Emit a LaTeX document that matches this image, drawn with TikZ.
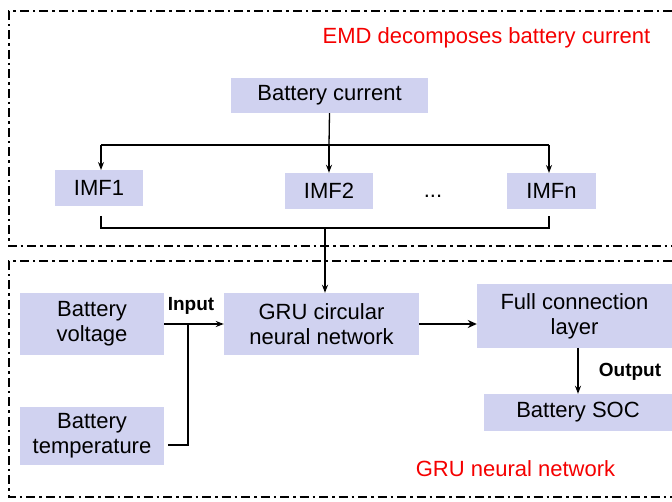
\documentclass[tikz,border=0pt]{standalone}
\usepackage{fontspec}
\setmainfont{Liberation Sans}
\usetikzlibrary{arrows.meta}
\definecolor{boxfill}{RGB}{208,210,240}
\definecolor{redtxt}{RGB}{245,0,0}
\begin{document}
\begin{tikzpicture}[x=1pt,y=-1pt,
  blk/.style={fill=boxfill,draw=none,inner sep=0pt,align=center,font=\fontsize{22}{25}\selectfont},
  frame/.style={line width=2.2pt,dash pattern=on 9pt off 4pt on 2.5pt off 4pt},
  conn/.style={line width=1.3pt},
  arr/.style={conn,-{Stealth[length=8pt,width=6pt]}},
  thick arr/.style={line width=2.6pt,-{Stealth[length=9pt,width=8pt]}},
  lbl/.style={font=\fontsize{22}{25}\selectfont},
  redlbl/.style={text=redtxt,font=\fontsize{22}{25}\selectfont}]
\useasboundingbox (0,0) rectangle (672,502);
\fill[white] (0,0) rectangle (672,502);
% frames
\draw[frame] (672,11) -- (9,11) -- (9,246) -- (672,246);
\draw[frame] (672,261) -- (9,261) -- (9,497) -- (672,497);
% labels
\node[redlbl] (emd) at (486.5,38) {EMD decomposes battery current};
\node[redlbl] (grul) at (515.5,469) {GRU neural network};
% nodes
\node[blk,minimum width=197pt,minimum height=35pt] (bc) at (329.5,95.5) {Battery current};
\node[blk,minimum width=88pt,minimum height=36pt] (imf1) at (99,188) {IMF1};
\node[blk,minimum width=88pt,minimum height=36pt] (imf2) at (329,191) {IMF2};
\node[blk,minimum width=89pt,minimum height=36pt] (imfn) at (551.5,191) {IMFn};
\node[lbl] (dots) at (433,196) {...};
\node[blk,minimum width=144pt,minimum height=62pt] (bv) at (92,324) {Battery\\voltage};
\node[blk,minimum width=144pt,minimum height=58pt] (bt) at (92,436) {Battery\\temperature};
\node[blk,minimum width=195pt,minimum height=62pt] (gru) at (321.5,324) {GRU circular\\neural network};
\node[blk,minimum width=195pt,minimum height=64pt] (fc) at (574.5,316) {Full connection\\layer};
\node[blk,minimum width=188pt,minimum height=37pt] (soc) at (578,412.5) {Battery SOC};
\node[lbl,font=\bfseries\fontsize{19}{23}\selectfont] (inp) at (191,306) {Input};
\node[lbl,font=\bfseries\fontsize{19}{23}\selectfont] (outp) at (630,372) {Output};
% top connectors
\coordinate (split) at (329,145);
\draw[conn] (bc.south) -- (split);
\draw[conn] (101,145) -- (549,145);
\draw[arr] (101,145) -- (101,170);
\draw[arr] (split) -- (imf2.north);
\draw[arr] (549,145) -- (549,173);
% bracket
\coordinate (join) at (325,228);
\draw[conn] (101,216) -- (101,228) -- (549,228) -- (549,216);
\draw[arr] (join) -- (join |- gru.north);
% bottom connectors
\draw[arr] (bv.east) -- (gru.west);
\coordinate (tstart) at (168,445);
\coordinate (tcorner) at (188,445);
\draw[line width=2.6pt] (tstart) -- (tcorner) -- (188,323);
\draw[thick arr] (gru.east) -- (gru.east -| fc.west);
\draw[arr] (578,348) -- (soc.north -| 578,0);
\end{tikzpicture}
\end{document}
